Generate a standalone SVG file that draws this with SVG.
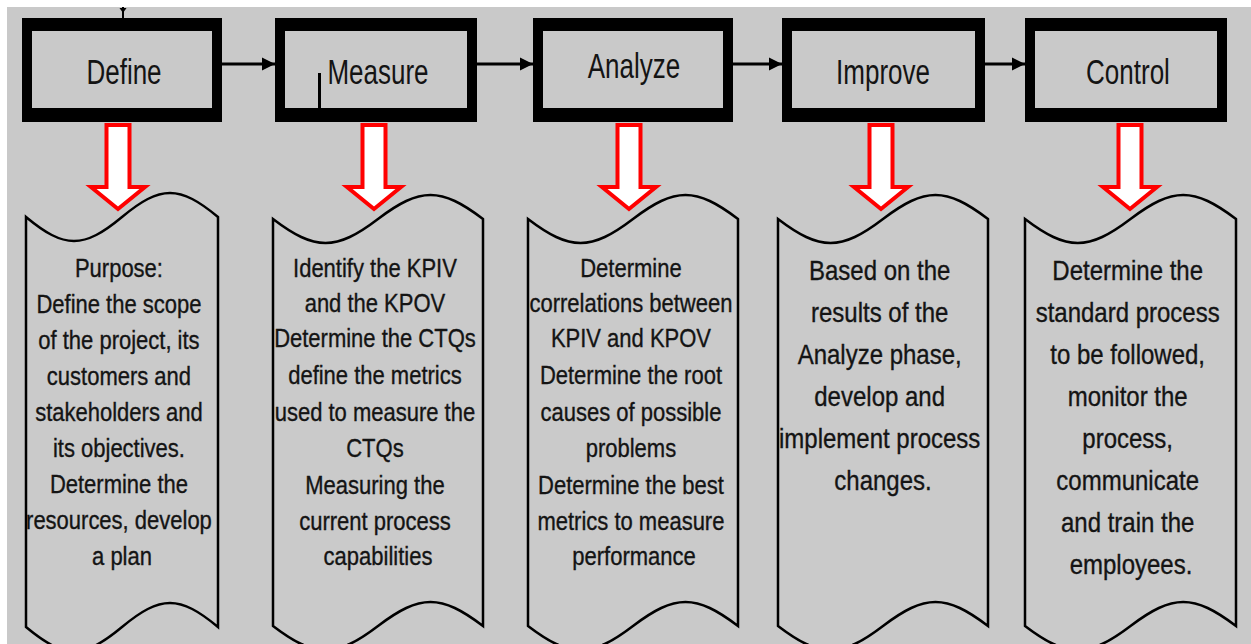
<svg xmlns="http://www.w3.org/2000/svg" width="1251" height="644" viewBox="0 0 1251 644">
  <style>
    .bg { fill: #c9c9c9; }
    .frame { fill: #000; }
    .inner { fill: #c9c9c9; }
    .title { font-family: "Liberation Sans", Arial, sans-serif; font-size: 26px; fill: #141414; text-anchor: middle; }
    .body { font-family: "Liberation Sans", Arial, sans-serif; font-size: 22px; fill: #141414; stroke: #141414; stroke-width: 0.3; text-anchor: middle; }
    .body-lg { font-family: "Liberation Sans", Arial, sans-serif; font-size: 24px; fill: #141414; stroke: #141414; stroke-width: 0.3; text-anchor: middle; }
    .tape { fill: #cacaca; stroke: #000; stroke-width: 2.5; stroke-linejoin: miter; }
    .down { fill: #fff; stroke: #f00; stroke-width: 4; stroke-linejoin: miter; stroke-miterlimit: 10; }
    .flow { stroke: #000; stroke-width: 3; fill: none; }
  </style>
  <defs>
    <marker id="head" viewBox="0 0 10 10" refX="10" refY="5" markerWidth="4.5" markerHeight="4.5" markerUnits="strokeWidth" orient="auto">
      <path d="M0,0 L10,5 L0,10 Z" fill="#000"/>
    </marker>
    <!-- hollow red down arrow, drawn around x = 0 -->
    <polygon id="downArrow" class="down" points="-11.5,125 11.5,125 11.5,187 27,187 0,209 -27,187 -11.5,187"/>
  </defs>

  <rect x="0" y="0" width="1251" height="644" fill="#fff"/>
  <rect class="bg" x="7" y="7" width="1244" height="637"/>

  <!-- flow connectors between phases -->
  <g id="connectors">
    <line x1="123" y1="7" x2="123" y2="18" stroke="#000" stroke-width="2"/>
    <path d="M119.5,8 L126.5,8 L123,13 Z" fill="#000"/>
    <line class="flow" x1="222" y1="64" x2="275" y2="64" marker-end="url(#head)"/>
    <line class="flow" x1="477" y1="64" x2="533" y2="64" marker-end="url(#head)"/>
    <line class="flow" x1="733" y1="64" x2="782" y2="64" marker-end="url(#head)"/>
    <line class="flow" x1="985" y1="64" x2="1025" y2="64" marker-end="url(#head)"/>
    <use href="#downArrow" x="118"/>
    <use href="#downArrow" x="374"/>
    <use href="#downArrow" x="629"/>
    <use href="#downArrow" x="881"/>
    <use href="#downArrow" x="1130"/>
  </g>

  <!-- phase boxes -->
  <g id="define">
    <rect class="frame" x="22" y="18" width="200" height="104"/>
    <rect class="inner" x="32" y="31" width="180" height="77"/>
    <text class="title" transform="translate(124,84) scale(1,1.38)">Define</text>
  </g>
  <g id="measure">
    <rect class="frame" x="275" y="18" width="202" height="104"/>
    <rect class="inner" x="285" y="31" width="182" height="77"/>
    <rect class="frame" x="318" y="73" width="3" height="36"/>
    <text class="title" transform="translate(378,84) scale(1,1.38)">Measure</text>
  </g>
  <g id="analyze">
    <rect class="frame" x="533" y="18" width="200" height="104"/>
    <rect class="inner" x="543" y="31" width="180" height="77"/>
    <text class="title" transform="translate(634,78) scale(1,1.38)">Analyze</text>
  </g>
  <g id="improve">
    <rect class="frame" x="782" y="18" width="203" height="104"/>
    <rect class="inner" x="792" y="31" width="183" height="77"/>
    <text class="title" transform="translate(883,84) scale(1,1.38)">Improve</text>
  </g>
  <g id="control">
    <rect class="frame" x="1025" y="18" width="202" height="104"/>
    <rect class="inner" x="1035" y="31" width="182" height="77"/>
    <text class="title" transform="translate(1128,84) scale(1,1.38)">Control</text>
  </g>

  <!-- description tapes -->
  <g id="define-notes">
    <path class="tape" d="M26,217 C64.4,249 83.6,249 122,217 C160.4,185 179.6,185 218,217 L218,627 C179.6,595 160.4,595 122,627 C83.6,659 64.4,659 26,627 Z"/>
    <text class="body" transform="translate(122,277) scale(1,1.16)">
      <tspan x="0" y="0">Purpose:</tspan>
      <tspan x="0" y="31">Define the scope</tspan>
      <tspan x="0" y="62">of the project, its</tspan>
      <tspan x="0" y="93">customers and</tspan>
      <tspan x="0" y="124">stakeholders and</tspan>
      <tspan x="0" y="155">its objectives.</tspan>
      <tspan x="0" y="186">Determine the</tspan>
      <tspan x="0" y="217">resources, develop</tspan>
      <tspan x="0" y="248">a plan</tspan>
    </text>
  </g>
  <g id="measure-notes">
    <path class="tape" d="M273,219 C315,251 336,251 378,219 C420,187 441,187 483,219 L483,626 C441,594 420,594 378,626 C336,658 315,658 273,626 Z"/>
    <text class="body" transform="translate(378,277) scale(1,1.16)">
      <tspan x="0" y="0">Identify the KPIV</tspan>
      <tspan x="0" y="30.2">and the KPOV</tspan>
      <tspan x="0" y="60.3">Determine the CTQs</tspan>
      <tspan x="0" y="92.2">define the metrics</tspan>
      <tspan x="0" y="124.1">used to measure the</tspan>
      <tspan x="0" y="155.2">CTQs</tspan>
      <tspan x="0" y="187.1">Measuring the</tspan>
      <tspan x="0" y="218.1">current process</tspan>
      <tspan x="0" y="248.3">capabilities</tspan>
    </text>
  </g>
  <g id="analyze-notes">
    <path class="tape" d="M528,219 C570,251 591,251 633,219 C675,187 696,187 738,219 L738,626 C696,594 675,594 633,626 C591,658 570,658 528,626 Z"/>
    <text class="body" transform="translate(634,277) scale(1,1.16)">
      <tspan x="0" y="0">Determine</tspan>
      <tspan x="0" y="30.2">correlations between</tspan>
      <tspan x="0" y="60.3">KPIV and KPOV</tspan>
      <tspan x="0" y="92.2">Determine the root</tspan>
      <tspan x="0" y="124.1">causes of possible</tspan>
      <tspan x="0" y="155.2">problems</tspan>
      <tspan x="0" y="187.1">Determine the best</tspan>
      <tspan x="0" y="218.1">metrics to measure</tspan>
      <tspan x="0" y="248.3">performance</tspan>
    </text>
  </g>
  <g id="improve-notes">
    <path class="tape" d="M778,219 C820,251 841,251 883,219 C925,187 946,187 988,219 L988,626 C946,594 925,594 883,626 C841,658 820,658 778,626 Z"/>
    <text class="body-lg" transform="translate(883,280) scale(1,1.16)">
      <tspan x="0" y="0">Based on the</tspan>
      <tspan x="0" y="36.2">results of the</tspan>
      <tspan x="0" y="72.4">Analyze phase,</tspan>
      <tspan x="0" y="108.6">develop and</tspan>
      <tspan x="0" y="144.8">implement process</tspan>
      <tspan x="0" y="181">changes.</tspan>
    </text>
  </g>
  <g id="control-notes">
    <path class="tape" d="M1025,219 C1067.2,251 1088.3,251 1130.5,219 C1172.7,187 1193.8,187 1236,219 L1236,626 C1193.8,594 1172.7,594 1130.5,626 C1088.3,658 1067.2,658 1025,626 Z"/>
    <text class="body-lg" transform="translate(1131,280) scale(1,1.16)">
      <tspan x="0" y="0">Determine the</tspan>
      <tspan x="0" y="36.2">standard process</tspan>
      <tspan x="0" y="72.4">to be followed,</tspan>
      <tspan x="0" y="108.6">monitor the</tspan>
      <tspan x="0" y="144.8">process,</tspan>
      <tspan x="0" y="181">communicate</tspan>
      <tspan x="0" y="217.2">and train the</tspan>
      <tspan x="0" y="253.4">employees.</tspan>
    </text>
  </g>
</svg>
